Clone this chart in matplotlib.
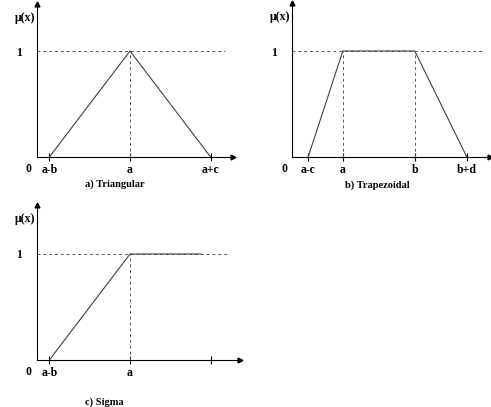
import matplotlib
matplotlib.use("Agg")
import matplotlib.pyplot as plt

plt.rcParams['font.family'] = ['Liberation Serif', 'DejaVu Serif']
plt.rcParams['font.weight'] = 'bold'

W, H = 491, 407

# membership functions (x in arbitrary units, y = mu(x))
tri_x = [1.0, 7.5, 14.0]
tri_y = [0, 1, 0]
tri_ticks = [1.0, 7.5, 14.0]
tri_labels = ['a-b', 'a', 'a+c']
tri_vlines = [7.5]

trap_x = [1.3, 4.1, 9.9, 14.1]
trap_y = [0, 1, 1, 0]
trap_ticks = [1.3, 4.1, 9.9, 14.1]
trap_labels = ['a-c', 'a', 'b', 'b+d']
trap_vlines = [4.1, 9.9]

sig_x = [1.0, 7.5, 13.2]
sig_y = [0, 1, 1]
sig_ticks = [1.0, 7.5, 14.0]
sig_labels = ['a-b', 'a', '']
sig_vlines = [7.5]

fig = plt.figure(figsize=(W / 100, H / 100), dpi=100)
PX = 12.4   # pixels per x unit
PY = 106.0  # pixels per membership unit


def panel(left, axis_y, width, height, xs, ys, ticks, labels, vlines, dash_end,
          title, title_x, title_y):
    ax = fig.add_axes([left / W, (H - axis_y) / H, width / W, height / H])
    ax.set_xlim(0, width / PX)
    ax.set_ylim(0, height / PY)
    for s in ['top', 'right']:
        ax.spines[s].set_visible(False)
    for s in ['left', 'bottom']:
        ax.spines[s].set_linewidth(0.8)
    ax.plot([1], [0], '>', color='black', ms=3.5, transform=ax.transAxes, clip_on=False)
    ax.plot([0], [1], '^', color='black', ms=3.5, transform=ax.transAxes, clip_on=False)

    ax.plot([0, dash_end], [1, 1], color='0.35', lw=0.7, ls=(0, (3, 3)))
    for v in vlines:
        ax.plot([v, v], [0, 1], color='0.35', lw=0.7, ls=(0, (3, 3)))
    ax.plot(xs, ys, color='0.25', lw=0.8)

    ax.set_xticks(ticks)
    ax.set_xticklabels(labels, fontsize=8.5, fontweight='bold')
    ax.tick_params(axis='x', direction='inout', length=6, width=0.8, pad=2)
    ax.set_yticks([1])
    ax.set_yticklabels(['1'], fontsize=8.5, fontweight='bold')
    ax.tick_params(axis='y', length=0, pad=11)

    ax.annotate('0', (0, 0), xycoords='data', xytext=(-8, -12), textcoords='offset pixels',
                ha='center', va='center', fontsize=8.5, fontweight='bold')
    ax.annotate('μ(x)', (0, 1), xycoords='axes fraction', xytext=(-12, -14), textcoords='offset pixels',
                ha='center', va='center', fontsize=8.5, fontweight='bold')
    fig.text(title_x / W, 1 - title_y / H, title, ha='center', va='center',
             fontsize=7.5, fontweight='bold')
    return ax


panel(37, 157, 196, 153, tri_x, tri_y, tri_ticks, tri_labels, tri_vlines, 15.2,
      'a) Triangular', 115, 184)
panel(292, 157, 198, 154, trap_x, trap_y, trap_ticks, trap_labels, trap_vlines, 15.3,
      'b) Trapezoidal', 377, 185)
panel(37, 360, 203, 155, sig_x, sig_y, sig_ticks, sig_labels, sig_vlines, 15.3,
      'c) Sigma', 104, 402)

fig.savefig('out.png', dpi=100)
